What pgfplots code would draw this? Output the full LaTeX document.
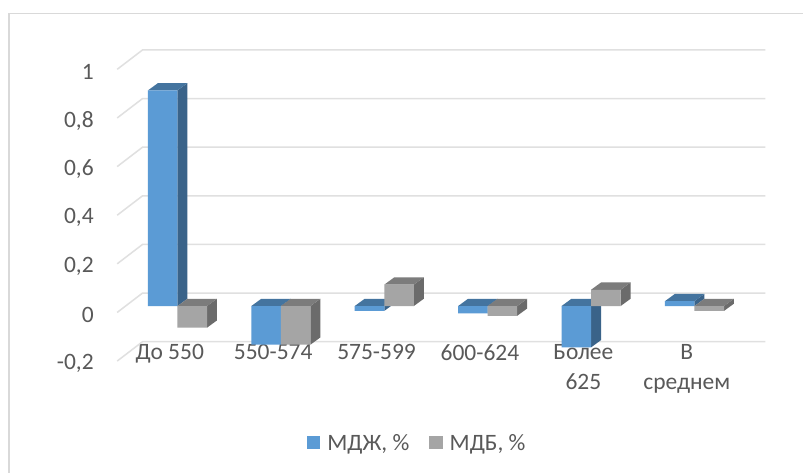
\documentclass[border=0pt]{standalone}
\usepackage{fontspec}
\setmainfont{Carlito}
\usepackage{pgfplots}
\usepackage{pgfplotstable}
\pgfplotsset{compat=1.18}
\definecolor{txt}{HTML}{595959}
\definecolor{gridc}{HTML}{E0E0E0}
\definecolor{framec}{HTML}{D9D9D9}
\definecolor{blueF}{HTML}{5B9BD5}
\definecolor{blueS}{HTML}{3A6389}
\definecolor{blueT}{HTML}{44749F}
\definecolor{grayF}{HTML}{A5A5A5}
\definecolor{grayS}{HTML}{6B6B6B}
\definecolor{grayT}{HTML}{7C7C7C}

\pgfplotstableread{
k mdj mdb
0 0.887 -0.089
1 -0.159 -0.159
2 -0.020 0.088
3 -0.030 -0.040
4 -0.170 0.067
5 0.020 -0.020
}\shares

% depth of a column, in axis units
\newcommand{\depthx}{0.0965}
\newcommand{\depthy}{0.030}
\newcommand{\barw}{0.2857}

% top and right faces of one column series: column name, left offset, colours
\newcommand{\columnfaces}[4]{%
  \pgfplotsforeachungrouped \i in {0,...,5}{%
    \pgfplotstablegetelem{\i}{#1}\of\shares
    \let\v\pgfplotsretval
    \pgfmathsetmacro\xl{\i+#2}
    \pgfmathsetmacro\xr{\xl+\barw}
    \pgfmathsetmacro\xlb{\xl+\depthx}
    \pgfmathsetmacro\xrb{\xr+\depthx}
    \pgfmathsetmacro\ya{max(\v,0)}
    \pgfmathsetmacro\yb{min(\v,0)}
    \pgfmathsetmacro\yab{\ya+\depthy}
    \pgfmathsetmacro\ybb{\yb+\depthy}
    \edef\faces{%
      \noexpand\addplot[fill=#3,draw=none,forget plot] coordinates {(\xr,\ya) (\xrb,\yab) (\xrb,\ybb) (\xr,\yb)} -- cycle;
      \noexpand\addplot[fill=#4,draw=none,forget plot] coordinates {(\xl,\ya) (\xlb,\yab) (\xrb,\yab) (\xr,\ya)} -- cycle;
    }\faces
  }%
}

\begin{document}
\begin{tikzpicture}[x=1pt,y=1pt]
\path[fill=white] (-117.3,-118) rectangle (686.7,355);
% chart frame, open at the right and at the bottom
\draw[framec,line width=1.5pt] (-108.3,-118) -- (-108.3,341.5) -- (686.7,341.5);
\begin{axis}[
  at={(0,0)},anchor=south west,
  scale only axis,width=648.7pt,height=292pt,
  clip=false,
  xmin=-0.583,xmax=5.685,ymin=-0.2,ymax=1,
  axis line style={draw=none},
  major tick length=0pt,
  xtick={0,1,2,3,4,5},
  xticklabels={{До 550},{550-574},{575-599},{600-624},{Более\\625},{В\\среднем}},
  ytick={-0.2,0,0.2,0.4,0.6,0.8,1},
  yticklabels={{-0,2},{0},{0,2},{0,4},{0,6},{0,8},{1}},
  tick label style={text=txt,font=\fontsize{23.5}{30}\selectfont},
  xticklabel style={align=center,anchor=north,xshift=-7.7pt,yshift=14pt},
  yticklabel style={anchor=east,xshift=-20pt,yshift=-9pt},
  legend columns=2,
  legend style={at={(0.463,-0.302)},anchor=center,draw=none,fill=none,
    text=txt,font=\fontsize{23.5}{28}\selectfont,
    /tikz/every odd column/.append style={column sep=5pt},
    /tikz/every even column/.append style={column sep=18pt}},
]
% back wall and left wall lines
\pgfplotsforeachungrouped \L in {-0.2,0,0.2,0.4,0.6,0.8,1}{%
  \pgfmathsetmacro\yf{\L-0.0263}
  \pgfmathsetmacro\yk{\L+0.0534}
  \edef\wall{\noexpand\addplot[gridc,line width=1.5pt,forget plot] coordinates {(-0.583,\yf) (-0.338,\yk) (5.685,\yk)};}
  \wall
}
% blue series
\columnfaces{mdj}{-\barw}{blueS}{blueT}
\addplot[ybar,bar width=0.2857,bar shift=-0.14285,fill=blueF,draw=none,
  legend image code/.code={\fill[blueF] (0pt,-6.7pt) rectangle (13.4pt,6.7pt);}] table[x=k,y=mdj] {\shares};
\addlegendentry{МДЖ, \%}
% grey series
\columnfaces{mdb}{0}{grayS}{grayT}
\addplot[ybar,bar width=0.2857,bar shift=0.14285,fill=grayF,draw=none,
  legend image code/.code={\fill[grayF] (0pt,-6.7pt) rectangle (13.4pt,6.7pt);}] table[x=k,y=mdb] {\shares};
\addlegendentry{МДБ, \%}
\end{axis}
\end{tikzpicture}
\end{document}
